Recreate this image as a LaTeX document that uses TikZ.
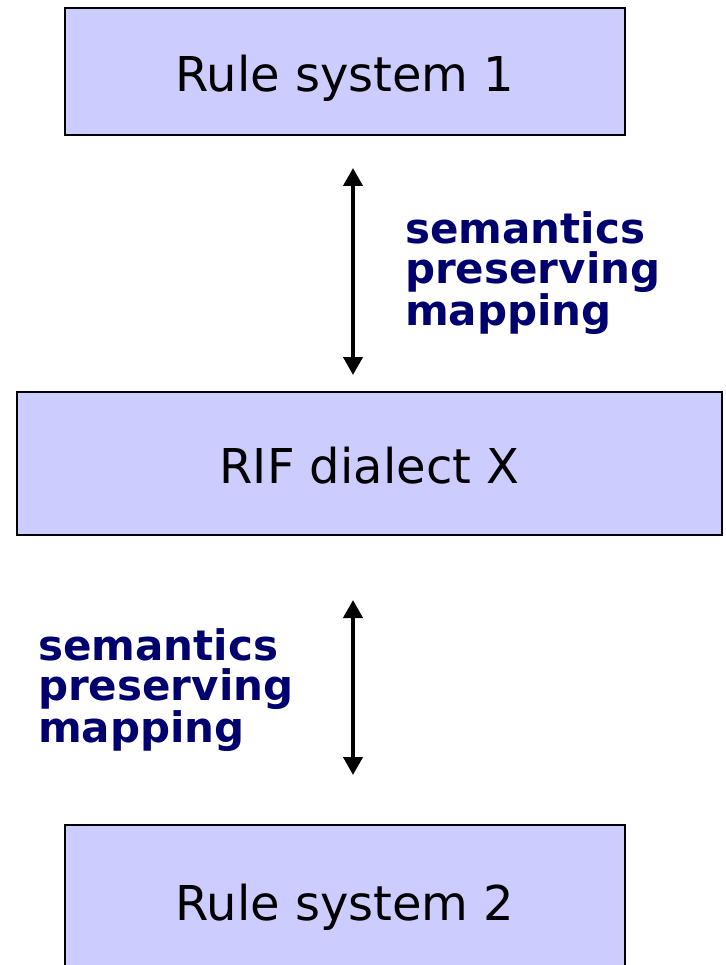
\documentclass[tikz,border=0pt]{standalone}
\usepackage{fontspec}
\setmainfont{DejaVu Sans}
\usetikzlibrary{arrows.meta}
\definecolor{boxfill}{RGB}{204,204,255}
\definecolor{mapblue}{RGB}{0,0,110}
\begin{document}
\begin{tikzpicture}[x=1pt, y=-1pt,
  rulebox/.style={draw=black, line width=2pt, fill=boxfill, inner sep=0pt,
    font=\fontsize{48}{52}\selectfont, text height=40pt, text depth=0pt},
  maplabel/.style={font=\bfseries\fontsize{42}{40}\selectfont, text=mapblue,
    align=left, anchor=north west, inner sep=0pt},
  maparrow/.style={{Triangle[width=19pt,length=18pt]}-{Triangle[width=19pt,length=18pt]},
    line width=4pt}]

\useasboundingbox (0,0) rectangle (725,965);

\node[rulebox, minimum width=560pt, minimum height=127pt] (RS1) at (345,71.5) {Rule system 1};
\node[rulebox, minimum width=705pt, minimum height=143pt] (RIF) at (369.5,463.5) {RIF dialect X};
\node[rulebox, minimum width=560pt, minimum height=150pt] (RS2) at (345,900) {Rule system 2};


\coordinate (A1t) at (353,168);
\coordinate (A1b) at (353,375);
\coordinate (A2t) at (353,600);
\coordinate (A2b) at (353,775);

\draw[maparrow] (A1t) -- (A1b);
\draw[maparrow] (A2t) -- (A2b);


\node[maplabel] (M1) at (405,211) {semantics\\preserving\\mapping};
\node[maplabel] (M2) at (38,628) {semantics\\preserving\\mapping};

\end{tikzpicture}
\end{document}
